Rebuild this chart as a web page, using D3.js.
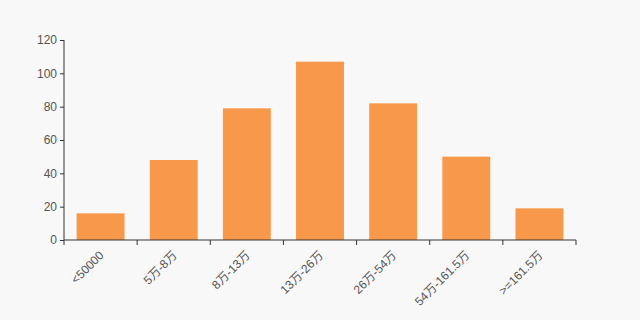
<!DOCTYPE html>
<html><head><meta charset="utf-8">
<script src="https://cdn.jsdelivr.net/npm/d3@7"></script>
<style>body{margin:0;background:#f8f8f8;}svg{display:block;}</style>
</head><body>
<svg id="c" width="640" height="320"></svg>
<script>
const categories = ["<50000","5万-8万","8万-13万","13万-26万","26万-54万","54万-161.5万",">=161.5万"];
const values = [16, 48, 79, 107, 82, 50, 19];
const yTicks = [0,20,40,60,80,100,120];

(function(){
const svg = d3.select("#c");
svg.append("rect").attr("width",640).attr("height",320).attr("fill","#f8f8f8");
const mL = 64, mR = 576, mT = 40, mB = 240;
const x = d3.scaleBand().domain(categories).range([mL,mR]).paddingInner(0.345).paddingOuter(0.1725);
const y = d3.scaleLinear().domain([0,120]).range([mB,mT]);

svg.selectAll("rect.bar").data(values).join("rect").attr("class","bar")
  .attr("x",(d,i)=>x(categories[i])).attr("width",x.bandwidth())
  .attr("y",d=>y(d)).attr("height",d=>mB-y(d)).attr("fill","#f7984a");

const font = "'Liberation Sans','Noto Sans CJK SC',sans-serif";
const ya = svg.append("g").attr("transform",`translate(${mL},0)`)
  .call(d3.axisLeft(y).tickValues(yTicks).tickSize(4).tickPadding(3));
const xa = svg.append("g").attr("transform",`translate(0,${mB})`)
  .call(d3.axisBottom(x).tickSize(4).tickPadding(4));
xa.selectAll(".tick line").remove();
const bounds = categories.map(c=>x(c)-x.step()*x.paddingInner()/2).concat([mR]);
xa.selectAll("line.b").data(bounds).join("line").attr("class","b")
  .attr("x1",d=>d).attr("x2",d=>d).attr("y1",0).attr("y2",5).attr("stroke","#333");
[ya,xa].forEach(a=>{
  a.select(".domain").attr("stroke","#333");
  a.selectAll("text").attr("fill","#555").style("font-family",font).style("font-size","12px");
  a.selectAll(".tick line").attr("stroke","#333");
});
xa.select(".domain").attr("d",`M${mL},0H${mR}`);
ya.select(".domain").attr("d",`M0,${mT}V${mB}`);
xa.selectAll(".tick text").attr("text-anchor","end").attr("dy","0.35em")
  .attr("transform","translate(1,13) rotate(-45)").attr("y",0).attr("x",0);
})();
</script>
</body></html>
